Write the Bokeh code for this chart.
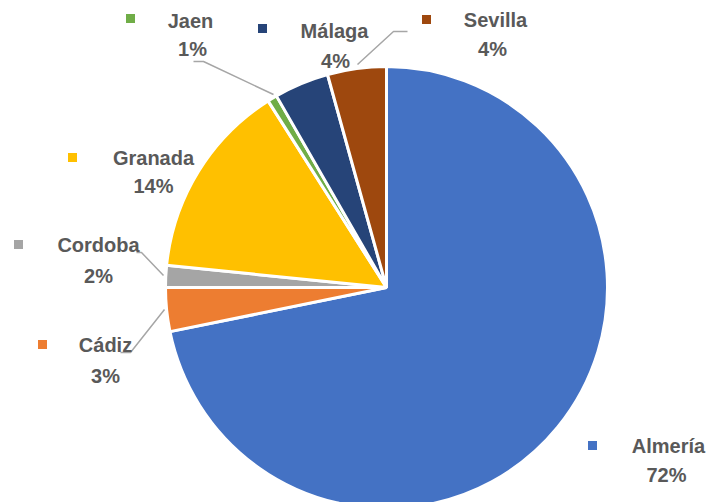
import numpy as np
from bokeh.plotting import figure
from bokeh.models import ColumnDataSource, Range1d
from bokeh.core.properties import value
from bokeh.embed import file_html
from bokeh.resources import INLINE

# ---- data ----
provinces = ["Almería", "Cádiz", "Cordoba", "Granada", "Jaen", "Málaga", "Sevilla"]
shares = [71.8, 3.2, 1.6, 14.4, 0.7, 4.0, 4.3]
colors = ["#4472C4", "#ED7D31", "#A5A5A5", "#FFC000", "#70AD47", "#264478", "#9E480E"]
pct_labels = [f"{round(s)}%" for s in shares]

W, H = 707, 502
def X(x):  # image px -> data x
    return x
def Y(y):  # image px -> data y
    return H - y

cx, cy, R = X(386), Y(287), 221

vals = np.array(shares, dtype=float)
frac = vals / vals.sum()
cum_end = np.cumsum(frac) * 2 * np.pi
cum_start = cum_end - frac * 2 * np.pi
start = np.pi / 2 - cum_end
end = np.pi / 2 - cum_start

src = ColumnDataSource(dict(start=start, end=end, color=colors, name=provinces))

p = figure(width=W, height=H, output_backend="svg", toolbar_location=None,
           x_range=Range1d(0, W), y_range=Range1d(0, H), min_border=0)
p.axis.visible = False
p.grid.visible = False
p.outline_line_color = None
p.background_fill_color = "white"
p.border_fill_color = "white"

p.wedge(x=cx, y=cy, radius=R, start_angle="start", end_angle="end",
        fill_color="color", line_color="white", line_width=3, source=src)

# leader lines (image coords)
leaders = [
    [(193, 61), (203, 61), (273, 94)],      # Jaen
    [(407, 31), (393, 31), (357, 64)],      # Sevilla
    [(136, 252), (141, 252), (163, 275)],   # Cordoba
    [(120, 352), (130, 352), (164, 309)],   # Cádiz
]
p.multi_line(xs=[[X(a) for a, b in l] for l in leaders],
             ys=[[Y(b) for a, b in l] for l in leaders],
             line_color="#A6A6A6", line_width=1.5)

# label layout (image coords): name center, pct center, legend key
layout = {
    "Almería": ((668, 445), (666, 474), (592, 445)),
    "Cádiz": ((105, 344), (105, 375), (42, 344)),
    "Cordoba": ((98, 244), (98, 275), (18, 244)),
    "Granada": ((153, 157), (153, 185), (72, 157)),
    "Jaen": ((190, 20), (192, 48), (130, 18)),
    "Málaga": ((334, 30), (335, 60), (262, 28)),
    "Sevilla": ((495, 19), (492, 48), (426, 19)),
}
tx, ty, txt = [], [], []
kx, ky, kc = [], [], []
for name, pl, col in zip(provinces, pct_labels, colors):
    (nx, ny), (px, py), (qx, qy) = layout[name]
    tx += [X(nx), X(px)]
    ty += [Y(ny), Y(py)]
    txt += [name, pl]
    kx.append(X(qx)); ky.append(Y(qy)); kc.append(col)

p.text(x=tx, y=ty, text=txt, text_align="center", text_baseline="middle",
       text_font=value("Liberation Sans"), text_font_style="bold",
       text_font_size="20px", text_color="#595959")
p.scatter(x=kx, y=ky, marker="square", size=9, fill_color=kc, line_color=None)

open("out.html", "w").write(file_html(p, INLINE))
